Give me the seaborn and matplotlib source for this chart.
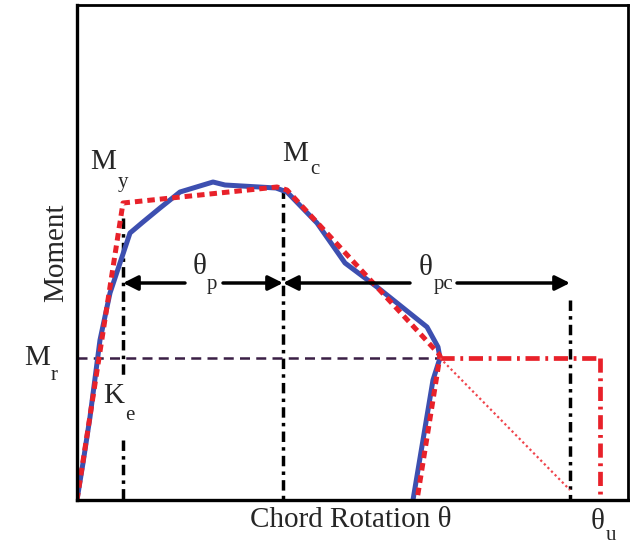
import numpy as np
import pandas as pd
import matplotlib
matplotlib.use("Agg")
import matplotlib.pyplot as plt
import seaborn as sns

# Backbone curve (arbitrary units, origin at axes corner)
blue_rot = [0, 6, 13, 23, 33, 53, 66, 83, 103, 136, 148, 199, 210, 240, 268, 300, 350, 361, 363, 356, 336]
blue_mom = [0, 37, 83, 160, 207, 267, 278, 292, 308, 318, 315, 312, 308, 277, 237, 213, 173, 153, 142, 120, 0]

# Idealised multi-linear model
model_rot = [0, 46, 200, 210, 361, 363, 340]
model_mom = [0, 297, 313, 310, 147, 144, 0]

# Residual plateau and ultimate rotation
resid_rot = [363, 523]
resid_mom = [142, 142]
ult_rot = [523, 523]
ult_mom = [142, 0]
soft_rot = [363, 493]
soft_mom = [142, 10]

theta_y, theta_c, theta_end = 46, 206, 493
M_r = 142
arrow_level = 217

BLUE = "#3d4fb0"
RED = "#e8212a"
SERIF = ["Liberation Serif", "DejaVu Serif"]

sns.set_style("white")
plt.rcParams["font.family"] = SERIF

fig = plt.figure(figsize=(6.3, 5.45), dpi=100)
ax = fig.add_axes([77 / 630, 45 / 545, 551 / 630, 495 / 545])

blue_df = pd.DataFrame({"rot": blue_rot, "mom": blue_mom})
model_df = pd.DataFrame({"rot": model_rot, "mom": model_mom})

# reference dash-dot verticals
dashdot = (0, (3, 1.5, 1, 1.5))
ax.plot([theta_y, theta_y], [282, 125], color="black", lw=2.5, ls=dashdot)
ax.plot([theta_y, theta_y], [60, 0], color="black", lw=2.5, ls=dashdot)
ax.plot([theta_c, theta_c], [312, 0], color="black", lw=2.5, ls=dashdot)
ax.plot([theta_end, theta_end], [200, 0], color="black", lw=2.5, ls=dashdot)

# residual moment line
ax.plot([0, 363], [M_r, M_r], color="#3a1f45", lw=1.8, ls=(0, (4, 2.5)))

sns.lineplot(data=blue_df, x="rot", y="mom", sort=False, estimator=None,
             color=BLUE, lw=3.6, ax=ax)
sns.lineplot(data=model_df, x="rot", y="mom", sort=False, estimator=None,
             color=RED, lw=3.6, ls=(0, (1.5, 1)), ax=ax)

ax.plot(resid_rot, resid_mom, color=RED, lw=3.4, ls=(0, (3, 1.2, 0.6, 1.2)))
ax.plot(ult_rot, ult_mom, color=RED, lw=3.4, ls=(0, (3, 1.2, 0.6, 1.2)))
ax.plot(soft_rot, soft_mom, color="#f0454d", lw=1.6, ls=(0, (1, 1.3)))

# rotation arrows
arw = dict(arrowstyle="-|>", color="black", lw=2.5, mutation_scale=22, shrinkA=0, shrinkB=0)
ax.annotate("", xy=(theta_y, arrow_level), xytext=(108, arrow_level), arrowprops=arw)
ax.annotate("", xy=(theta_c, arrow_level), xytext=(146, arrow_level), arrowprops=arw)
ax.annotate("", xy=(theta_c, arrow_level), xytext=(333, arrow_level), arrowprops=arw)
ax.annotate("", xy=(theta_end, arrow_level), xytext=(380, arrow_level), arrowprops=arw)

big, small = 21, 15
labels = [
    ("M", 26, 338, big), ("y", 46, 318, small),
    ("M", 218, 346, big), ("c", 238, 330, small),
    ("M", -40, 142, big), ("r", -23, 124, small),
    ("K", 37, 104, big), ("e", 53, 85, small),
    ("θ", 123, 233, big), ("p", 135, 215, small),
    ("θ", 349, 232, big), ("pc", 367, 216, small),
    ("θ", 521, -22, big), ("u", 534, -36, small),
]
for txt, x, y, fs in labels:
    ax.text(x, y, txt, fontsize=fs, ha="center", va="center", clip_on=False)

ax.text(274, -20, "Chord Rotation θ", fontsize=big, ha="center", va="center")
ax.text(-21, 247, "Moment", fontsize=big, ha="center", va="center", rotation=90)

ax.set_xlim(0, 551)
ax.set_ylim(0, 495)
ax.set_xticks([])
ax.set_yticks([])
ax.set_xlabel("")
ax.set_ylabel("")
for s in ax.spines.values():
    s.set_color("black")
    s.set_linewidth(2)
ax.spines["left"].set_linewidth(2.4)
ax.spines["bottom"].set_linewidth(2.4)

fig.savefig("out.png", dpi=100)
